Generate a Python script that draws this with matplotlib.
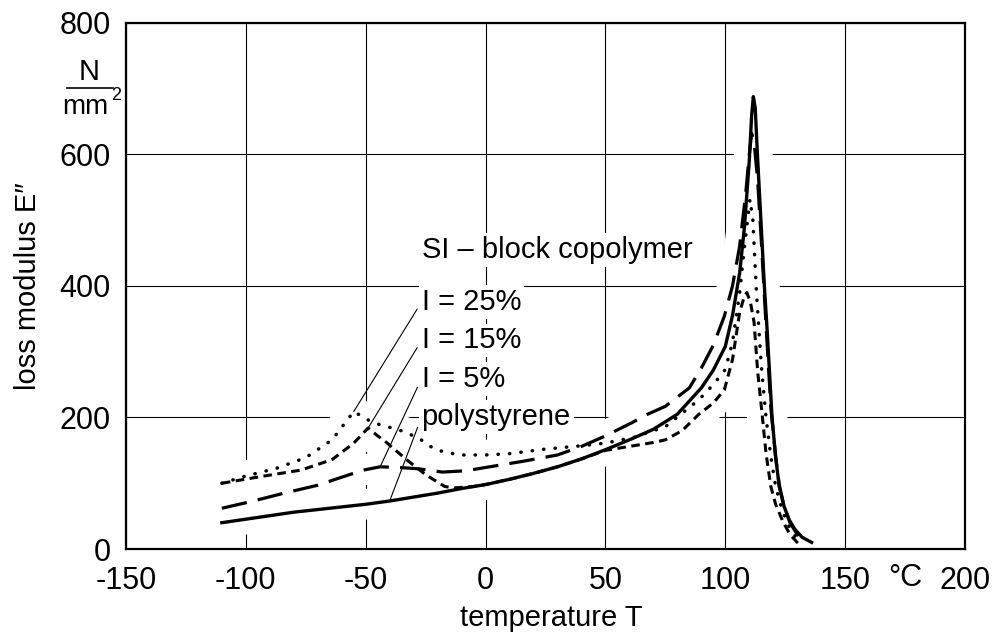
import matplotlib
matplotlib.use('Agg')
import matplotlib.pyplot as plt
from matplotlib.lines import Line2D

FONT = ['Liberation Sans', 'DejaVu Sans']
plt.rcParams['font.family'] = FONT
plt.rcParams['axes.unicode_minus'] = False

# polystyrene (solid line)
ps_temp = [-110, -95, -80, -65, -50, -40, -30, -20, -10, 0, 10, 20, 30, 40, 50, 60, 70, 80,
           90, 95, 100, 103, 106, 108, 110, 111, 111.7, 112.5, 113.4, 115, 116.3, 117.5, 119.5,
           121, 122.5, 124.5, 126.7, 129, 132, 136]
ps_loss = [40, 48, 56, 62, 68, 73, 79, 85, 92, 98, 106, 115, 125, 137, 151, 166, 182, 205,
           245, 272, 308, 355, 420, 490, 590, 660, 688, 670, 600, 490, 400, 330, 200,
           140, 95, 65, 44, 30, 18, 10]

# SI block copolymer I = 5% (long dashes)
i5_temp = [-110, -98, -84, -70, -61, -51, -44, -36, -28, -18, -8, 0, 15, 30, 40, 50, 61, 67,
           75, 85, 90, 95, 99.6, 103, 106, 108.5, 110, 111, 112, 113.5, 115, 117, 119, 121,
           122.5, 124.5, 127, 130, 134]
i5_loss = [62, 72, 85, 97, 108, 120, 125, 124, 122, 117, 119, 124, 133, 143, 156, 172, 192, 204,
           217, 245, 275, 310, 354, 400, 461, 540, 600, 632, 620, 560, 470, 340, 215, 140,
           98, 65, 40, 22, 10]

# SI block copolymer I = 15% (short dashes)
i15_temp = [-110, -94, -77, -64, -55, -49, -45, -41, -33, -25, -17, -13, -5, 0, 10, 20, 30, 40,
            50, 60, 70, 75, 82, 89, 95, 99.6, 103, 106, 108, 109, 110.5, 112, 113.5, 115.5,
            117, 119, 121, 124, 127, 131]
i15_loss = [100, 110, 120, 136, 161, 184, 172, 161, 136, 113, 95, 93, 95, 98, 106, 115, 125, 137,
            150, 156, 162, 166, 180, 205, 222, 242, 288, 360, 385, 390, 375, 345, 270, 200,
            145, 95, 68, 42, 22, 6]

# SI block copolymer I = 25% (dotted)
i25_temp = [-110, -101, -87, -75, -64, -55, -47, -36, -28, -21, -11, 0, 10, 25, 40, 50, 62, 75,
            89, 95, 100, 103, 106, 108, 110.3, 111.5, 113, 115, 117, 119, 121, 123.5, 126,
            129, 132]
i25_loss = [100, 110, 123, 139, 166, 209, 192, 181, 169, 151, 143, 143, 145, 152, 157, 161, 170,
            186, 227, 250, 273, 314, 390, 460, 532, 500, 390, 280, 200, 140, 95, 62, 38,
            20, 8]

x_ticks = [-150, -100, -50, 0, 50, 100, 150, 200]
y_ticks = [0, 200, 400, 600, 800]

fig = plt.figure(figsize=(9.92, 6.33), dpi=100)
ax = fig.add_axes([0.127, 0.1327, 0.8458, 0.831])

curves = [
    (ps_temp, ps_loss, dict(linestyle='-', lw=2.4)),
    (i5_temp, i5_loss, dict(linestyle=(0, (8, 3.5)), lw=2.3)),
    (i15_temp, i15_loss, dict(linestyle=(0, (2.8, 1.8)), lw=2.2)),
    (i25_temp, i25_loss, dict(linestyle=(0, (0.1, 3.2)), lw=2.5, dash_capstyle='round')),
]

# white band under the curves so the grid breaks around them
for t, v, style in curves:
    ax.plot(t, v, color='white', lw=22, solid_capstyle='butt', zorder=1)

for t, v, style in curves:
    ax.plot(t, v, color='black', zorder=2, **style)

ax.set_xlim(-150, 200)
ax.set_ylim(0, 800)
ax.set_xticks(x_ticks)
ax.set_yticks(y_ticks)
ax.tick_params(length=0, labelsize=22)
ax.tick_params(axis='x', pad=12)
ax.tick_params(axis='y', pad=11)
ax.grid(True, color='black', lw=0.8)
ax.set_axisbelow(True)
for sp in ax.spines.values():
    sp.set_linewidth(1.6)
    sp.set_zorder(3)

ax.set_xlabel('temperature T', fontsize=21)
ax.xaxis.set_label_coords(0.507, -0.104)
ax.set_ylabel('loss modulus E\u2033', fontsize=21)
ax.yaxis.set_label_coords(-0.100, 0.5)

# unit on axes
ax.text(175, -0.027, '\u00b0C', transform=ax.get_xaxis_transform(), fontsize=22,
        ha='center', va='top')
fig.text(89 / 992, 1 - 72 / 633, 'N', fontsize=21, ha='center', va='center')
fig.add_artist(Line2D([67 / 992, 113 / 992], [1 - 88 / 633, 1 - 88 / 633], color='black', lw=1.2))
fig.text(85 / 992, 1 - 107 / 633, 'mm', fontsize=20, ha='center', va='center')
fig.text(116 / 992, 1 - 96 / 633, '2', fontsize=13, ha='center', va='center')

# labels with leader lines
box = dict(facecolor='white', edgecolor='none', pad=2)
ax.text(-26.7, 442, 'SI \u2013 block copolymer', fontsize=21, ha='left', va='baseline',
        bbox=box, zorder=1.5)
labels = [
    ('I = 25%', 363.5, i25_temp[5], i25_loss[5]),
    ('I = 15%', 305, i15_temp[5], i15_loss[5]),
    ('I = 5%', 247, i5_temp[6], i5_loss[6]),
    ('polystyrene', 188.6, ps_temp[5], ps_loss[5]),
]
for txt, ty, px, py in labels:
    ax.annotate(txt, xy=(px, py), xytext=(-26.7, ty), fontsize=21, ha='left', va='baseline',
                bbox=box, zorder=1.5,
                arrowprops=dict(arrowstyle='-', color='black', lw=0.8, relpos=(0, 0.5),
                                shrinkA=2, shrinkB=0))

fig.savefig('out.png', dpi=100)
